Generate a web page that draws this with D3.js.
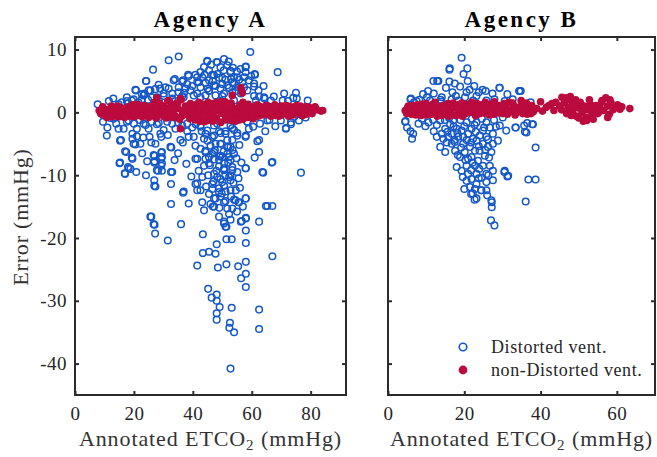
<!DOCTYPE html>
<html>
<head>
<meta charset="utf-8">
<title>ETCO2 error by agency</title>
<script src="https://cdn.jsdelivr.net/npm/d3@7/dist/d3.min.js"></script>
<style>
  body { margin: 0; background: #fff; }
  text { font-family: "Liberation Serif", "DejaVu Serif", serif; fill: #262626; }
</style>
</head>
<body>
<svg id="chart" width="657" height="457"></svg>
<script>
// tick values
const xTicksA = [0, 20, 40, 60, 80];
const xTicksB = [0, 20, 40, 60];
const yTicks = [-40, -30, -20, -10, 0, 10];

// Agency A, distorted ventilation [annotated ETCO2, error]
const distortedA = [
  [35.2,8.9],[31.8,8.3],[59.5,9.6],[44.9,8.1],[48.1,8.0],[50.6,8.5],[26.5,6.8],[68.8,6.4],[42.6,6.4],[58,7.3],
  [61,6.1],[24.2,5.0],[38.4,6.0],[36.7,5.1],[33.5,5.1],[28.4,4.4],[20.5,3.6],[75,3.1],[79,1.9],[7.7,1.3],
  [74.1,2.3],[64.2,2.4],[57.4,4.0],
  [10.8,-3.7],[14.8,-2.6],[15.6,-4.4],[17.4,-6.3],[15.3,-8.0],[16.9,-9.7],[18.2,-8.9],[19.3,-7.2],[19.9,-5.0],
  [21,-3.8],[22.2,-5.0],[24.1,-10],[26.9,-10.8],[26.9,-11.7],[25.3,-3.9],[25,-2.6],[29,-3.4],[29.5,-6.3],
  [29.5,-7.1],[29.5,-8.1],[29.5,-9.3],[26.7,-6.8],[26.9,-8.0],[27.8,-9.2],[32.4,-5.5],[32.6,-9.5],[32.6,-11.4],
  [36.7,-12.8],[35.8,-4.4],[34.1,-2.6],[25.6,-16.6],[26.7,-17.8],[36,-17.8],[32.6,-14.6],[38.6,-14.5],
  [41.5,-11.3],[42.6,-12.4],[43.2,-10.3],[41.5,-7.4],[42.6,-5.8],[44.3,-3.4],[45.5,-7.1],[45.8,-8.4],
  [43.2,-14.3],[43.8,-15.6],[47.2,-15.0],[48.9,-16.6],[50.6,-17.7],[52.8,-17.1],[54.5,-14],[55.7,-14.3],
  [58,-13.7],[58,-8.9],[58,-3.7],[59,-2.6],[62.5,-4.4],[62.5,-6.3],[63.9,-9.6],[67,-7.9],[65.3,-14.9],
  [67,-14.9],[62.5,-17.4],[58,-16.9],[56.3,-17.4],[76.7,-9.6],[71.6,-2.6],[73.3,-1.9],[48.9,-12.1],
  [48.3,-10.3],[50,-11.1],[52.8,-10.8],[50.6,-9.2],[52.8,-10],[47.2,-6.3],[50,-7.1],[51.7,-6.6],[52.8,-7.6],
  [53.4,-8.7],[51.7,-5.5],[53.4,-4.4],[49.4,-5.0],[47.2,-3.7],[55.1,-3.7],[54,-2.8],[48.9,-3],[40.3,-3.9],
  [38.1,-3],
  [43.2,5.6],[45.5,5.1],[48.3,6.1],[50,5.5],[52.8,6.4],[55.1,5.6],[54,4.6],[51.7,4.3],[49.4,3.8],[47.2,4.3],
  [45,3.8],[42.6,4.0],[41.5,4.8],[44.3,2.7],[47.7,2.7],[50.6,3.0],[53.4,3.2],[56.3,3.0],[58.5,3.5],[60.8,4.6],
  [59,5.1],[56.8,4.8],[49.4,7.2],[51.7,7.5],[54,5.6],[40.3,2.7],[37.5,3.8],[35.2,3.2],[31.8,3.8],[30.1,3.0],
  [26.1,2.4],[23.3,2.7],[19.3,1.9],[17.6,2.4],[15.9,1.6],[27.8,2.4],[33,2.2],[36.9,2.4],[42.6,2.4],[49.4,1.9],
  [54,1.9],[61.4,1.9],[66.5,1.9],[70.5,1.9],[45.5,6.7],[47.2,5.9],[53.4,4.8],[38.1,4.5],[28.9,3.8],[25,3.5],
  [22.7,2.9],
  [13.1,-1],[17.6,-1.5],[23.3,-1.8],[27.8,-1.9],[31.3,-1.5],[38.1,-1.8],[42.6,-2.1],[48.3,-1.8],[52.8,-2.1],
  [58.5,-1.5],[65.3,-1.3],[69.9,-1.3],[74.4,-0.7],[12,-0.9],[18,1.5],[22,-1.2],
  [47.7,-5],[51.1,-3.4],[52.8,-5.5],[54,-6.6],[50.6,-8.1],[47.2,-7.5],[48.9,-8.6],[55.1,-9.5],[51.1,-12.6],
  [52.8,-12.4],[49.4,-13.4],[47.2,-13.7],
  [72.3,1.8],[75.3,2.2],[73.3,-1.6],[71.6,-2.5],[61.9,-4.6],[66.8,-8.0],[57.9,-8.9],[63.6,-9.5],[57.9,-3.9],
  [58.5,-1.5],[60.8,4.1],[61.1,6.0],[57.9,7.2],[57.9,6.4],[55,6.5],[55.7,5.2],[52.8,6.6],[48.3,8.0],[51.1,5.2],
  [48.9,5.5],[46.6,6.0],[44.3,4.7],[47.7,4.2],[50,4.5],[52.3,3.9],[54.6,3.4],[45.5,3.4],[62.5,2.5],[64.3,2.2],
  [60.8,2.6],[50,2.6],[47.2,-2.1],[46.6,-3.9],[49.4,-3.3],[51.1,-3.0],[53.4,-2.5],[55.1,-3.3],[51.7,-4.4],
  [49.4,-5.0],[52,-5.5],[46.6,-6.6],[49.4,-6.9],[52.3,-7.1],[44.3,-6.3],[45.5,-8.1],[48.9,-7.6],[50.6,-8.9],
  [53.4,-9.2],[47.2,-9.8],[49.4,-10.6],[52.3,-10.3],[46.6,-11.4],[50.6,-11.7],[54.6,-12.4],[46.6,-12.2],
  [48.9,-12.7],[45.5,-13],[57.9,-13.7],[51.1,-14.1],[47.7,-13.7],
  [15.3,-4.5],[18.2,-1.3],[21,-2.6],[28.4,-1.7],[30.1,-2.8],[29.3,-3.9],[19.5,-3.4],[19.5,-4.2],[20.5,-5.1],
  [25.9,-4.8],[27.3,-5.0],[32.7,-5.6],[36.6,-4.8],[17,-6.2],[27,-6.9],[29.3,-6.4],[27,-7.8],[29.3,-7.4],
  [19.5,-7.4],[15.1,-8.1],[18,-8.7],[17,-9.8],[18.8,-9],[29.3,-8.5],[28.2,-9.3],[33,-9.5],[27.3,-11.8],
  [36.9,-12.6],[40.9,-11.4],[41.5,-12.4],[42,-9.3],[43.8,-8.5],[44.3,-7.4],[40.9,-7.4],[44.3,-6.1],
  [43.8,-4.2],[40.9,-5.3],[38.6,-3.9],[39.8,-2.4],[36.4,-2.1],[42.6,-2.3],[44.9,-2.9],[24.1,5.0],
  [20.7,3.5],[23.6,3.0],[25.6,3.5],[27.3,3.7],[30.7,4.0],[33.9,5.3],[36.4,4.9],[38.6,5.8],[40.9,6.0],
  [44.9,8.2],[42,4.8],[35.2,4.0],[33,3.0],[39.2,3.5],[41.5,3.0],[45.5,3.5],[17.6,1.8],[19.9,2.1],[22.7,2.1],
  [14.8,1.3],[30.1,2.6],[36.4,2.6],[34.1,1.8],
  [27.2,-19.3],[31.5,-20.4],[43.4,-19.4],[48.1,-21],[51.4,-20.2],[53.2,-20.2],[58,-20.8],[58,-18.8],
  [51.1,-18.2],[43.4,-22.4],[45.5,-22.2],[47.7,-22.5],[67,-22.9],[41.5,-24.4],[48.5,-24.7],[51.4,-24.2],
  [55.4,-24.5],[58,-23.8],[58,-25.7],[56.4,-26.4],[58,-27.8],[45.2,-28.1],[46.4,-29.5],[48.1,-29],[48.1,-30],
  [49.1,-31],[48.1,-32],[48.1,-33],[53.2,-31.1],[62.5,-31.4],[52.6,-33.5],[52.4,-34.3],[54,-35],[62.5,-34.5],
  [52.8,-40.8],
  [46.8,-15.0],[50.6,-14.3],[54,-13.9],[55.5,-14.3],[51.7,-15.3],[53.4,-15.3],[52.3,-16.2],[50.6,-17.4],
  [51.4,-18.2],[56.6,-17.3],[58,-16.8],[64.8,-14.9],[25.9,-16.6],[27,-17.9],
  [41,-1.9],[43,-3.0],[45,-4.5],[46,-5.3],[47.5,-6.0],[49,-7.0],[50.5,-6.2],[52,-8.0],[53.5,-6.0],[54.8,-7.3],
  [55.8,-5.2],[56.5,-8.0],[45.2,-10.0],[47,-11.0],[48,-9.3],[51,-10.0],[53.8,-11.2],[55.5,-10.5],[44.5,-11.8],
  [49.8,-12.9],[53,-13.4],[56,-12.0],[46,-14.6],[49,-15.2],[55,-15.8],[57,-15.0],
  [43.8,7.2],[46.2,7.6],[52.2,8.1],[53.6,7.1],[56.2,6.9],[59.8,5.8],[41.5,5.6],[44,6.0],[39.8,4.2],[37,3.1],
  [46.8,5.0],[50.5,6.7],[53,5.3],[55.5,4.0],[57.5,5.6],[62.3,3.5],[64,4.2],
  [11.5,1.8],[13,2.2],[21.5,1.6],[24.8,2.0],[28.5,1.9],[9.5,-1.5],[11,-2.4],[14,-1.8],[16.5,-2.6],[20,-1.8],
  [24,-2.0],[26,-1.5],[33,-1.8],[35,-1.6],[22.8,-6.5],[24.5,-7.8],[20.8,-9.5],[23.2,-4.0],[31.5,-3.6],
  [33.8,-7.6],[37.8,-8.2],[39.5,-10.2],[35,-6.5],
  [62.8,-1.8],[64.6,-3.0],[66,-1.2],[68,-2.2],[67.5,2.5],[71,3.0],[76,-1.3],[78.3,-0.8],[60.5,-2.3],[61,-7.2]
];

// Agency A, non-distorted ventilation
const nonDistortedA = [
  [8.2,0.3],[9.1,-0.3],[10,0.5],[11,-0.5],[12,0.2],[13,0.8],[14,-0.6],[15,0.1],[16,0.6],[17,-0.4],
  [18,0.9],[19,0],[20,-0.7],[21,0.5],[22,1.0],[23,-0.3],[24,0.4],[25,-0.8],[26,0.7],[27,1.6],
  [28,-0.5],[29,0.3],[30,1.0],[31,-0.9],[32,0.2],[33,1.3],[34,-0.6],[35,0.6],[36,2.0],[37,-0.2],
  [38,0.9],[39,-1.0],[40,0.4],[41,1.2],[42,-0.7],[43,0.1],[44,1.0],[45,-1.3],[46,0.6],[47,1.4],
  [48,-0.9],[49,0.2],[50,1.1],[51,-1.2],[52,0.5],[53,1.5],[54,-0.8],[55,0.3],[56,1.2],[57,-1.1],
  [58,0.6],[59,-0.4],[60,0.9],[61,0.1],[62,-0.6],[63,0.7],[64,0.2],[65,-0.3],[66,0.8],[67,0],
  [68,-0.5],[69,0.6],[70,1.0],[71,-0.2],[72,0.4],[73,0.9],[74,-0.4],[75,0.3],[76,0.7],[77,-0.5],
  [78,0.2],[79,0.6],[80,0.1],[81,0.5],
  [8.7,-0.2],[9.6,0.6],[10.5,-0.1],[11.5,0.4],[12.5,-0.7],[13.5,0.3],[14.5,1.0],[15.5,-0.3],[16.5,0.2],
  [17.5,0.5],[18.5,-0.6],[19.5,1.2],[20.5,0.2],[21.5,-0.5],[22.5,0.6],[23.5,1.1],[24.5,-0.2],[25.5,0.9],
  [26.5,0.1],[27.5,-0.9],[28.5,0.8],[29.5,-0.2],[30.5,0.5],[31.5,1.8],[32.5,-0.4],[33.5,0.3],[34.5,0.9],
  [35.5,-1.1],[36.5,0.2],[37.5,1.0],[38.5,-0.5],[39.5,0.6],[40.5,-0.2],[41.5,0.8],[42.5,-1.4],[43.5,1.3],
  [44.5,0.2],[45.5,-0.4],[46.5,1.1],[47.5,-0.9],[48.5,0.7],[49.5,-1.6],[50.5,0.4],[51.5,1.3],[52.5,-0.3],
  [53.5,0.8],[54.5,-1.4],[55.5,0.6],[56.5,-0.2],[57.5,1.0],[58.5,-0.8],[59.5,0.4],[60.5,-1.0],[61.5,0.5],
  [62.5,1.0],[63.5,-0.4],[64.5,0.6],[65.5,1.0],[66.5,-0.6],[67.5,0.4],[68.5,0.9],[69.5,-0.3],[70.5,0.3],
  [71.5,1.1],[72.5,-0.6],[73.5,0.5],[74.5,0.9],[75.5,-0.1],[76.5,1.0],[77.5,0.4],[78.5,-0.3],[79.5,0.8],
  [35.8,-2.6],[56.3,3.9],[56.8,3.1],[53.4,2.7],[35.8,2.2],[27.8,2.3],[31.8,1.9],[83.5,0.2],[84.1,0.3],
  [82.2,0.4],[77.3,-0.5],[79.5,0.6],[9,0],[45,-0.6],[50,-0.2],[55,-0.7],[42,0.5],[47,0.1],[52,-0.5],
  [58,0.2],[44,-1.5],[48,1.6],[51,1.7],[53,-1.3],[46,-1.0],[60,-0.2],[62,0.4],[64,0.8],[66,0.3],[70,-0.4],
  [20,0.6],[15,-0.7],[25,0.2],[30,-0.5],[33,0.7],[38,-0.3],[40,-0.9],[42,1.6],[49,1.0],[57,1.6],
  [9.4,0.9],[10.8,-0.8],[12.3,1.0],[13.8,-0.2],[15.2,0.8],[16.8,-0.8],[18.2,0.4],[19.8,-0.3],[21.2,1.3],
  [22.8,-0.7],[24.2,0.9],[25.8,-0.4],[27.2,0.5],[28.8,1.4],[30.2,-0.7],[31.8,0.7],[33.2,-0.8],[34.8,1.5],
  [36.2,-0.6],[37.8,0.3],[39.2,1.4],[40.8,-1.2],[42.2,0.9],[43.8,-0.6],[45.2,1.6],[46.8,-1.4],[48.2,0.3],
  [49.8,1.7],[51.2,-0.5],[52.8,1.0],[54.2,0.1],[55.8,-1.2],[57.2,0.5],[58.8,1.3],[60.2,-0.5],[61.8,1.2],
  [63.2,0.0],[64.8,1.1],[66.2,-0.2],[67.8,1.2],[69.2,-0.6],[70.8,0.6],[72.2,1.0],[73.8,-0.1],[75.2,1.1],
  [76.8,0.2],[78.2,0.9],[80.5,-0.2],[81.5,0.9]
];

// Agency B, distorted ventilation
const distortedB = [
  [19.3,8.7],[16.1,6.8],[20.8,7.0],[11.9,5.0],[13.2,5.0],[16.1,4.9],[20.9,5.0],[15.2,3.9],[16.9,3.2],
  [18.9,4.1],[20.6,3.2],[24.8,3.6],[25.6,3.4],[27.4,3.0],[29.3,3.9],[23.2,2.6],[9.2,2.9],[12,3.0],[5.9,2.1],
  [6.8,1.6],[10.2,2.4],[14.1,2.4],[16.7,2.1],[20.2,2.4],[22.3,1.9],[25.8,1.9],[30.6,1.8],[32.7,2.1],[34.4,3.4],
  [4.6,-1.4],[5,-2.4],[5.9,-3],[6.3,-4.2],[6.6,-3.4],[8.9,-1.0],[10.6,-1.6],[12.8,-2.0],[12,-3.0],[12.8,-3.9],
  [13.7,-5.5],[15,-6.3],[14.1,-3.4],[15,-2.6],[16.3,-1.9],[15.8,-3.9],[16.7,-5.0],[17.6,-6.1],[18.4,-3.9],
  [19.3,-2.9],[19.7,-5.0],[18,-8.7],[19.3,-9.3],[20.6,-8.5],[21,-9.8],[21.9,-7.1],[22.8,-6.1],[21.5,-5.5],
  [23.2,-4.5],[24.1,-3.7],[24.9,-2.9],[25.8,-3.9],[26.7,-2.4],[27.5,-3.4],[24.9,-5.0],[26.2,-5.5],[27.5,-5.0],
  [27.1,-6.3],[25.4,-6.9],[23.6,-7.7],[24.9,-8.5],[26.7,-8.5],[27.5,-9.3],[25.8,-9.8],[23.2,-9.8],
  [21.9,-10.6],[20.6,-10.9],[23.2,-11.4],[21.5,-11.9],[25.8,-11.1],[24.5,-12.4],[25.8,-12.4],[27.5,-10.8],
  [30.6,-9.3],[31.5,-10.1],[22.2,-12.9],[23.2,-13.7],[27.1,-14.0],[33.4,-2.4],[29.3,-2.1],[30.1,-0.8],
  [13.7,-1.3],[17.1,-1.3],[20.6,-1.6],[23.2,-1.6],[25.8,-1.6],[15.4,-4.8],[18,-2.6],[21,-3.4],[21.9,-2.6],
  [22.3,-4.2],[20.1,-6.3],[18.9,-7.1],[21,-7.4],[22.8,-8.5],[24,-6.1],[16.7,-3.4],[19.7,-3.9],
  [38.7,-5.6],[36.8,-10.7],[38.7,-10.7],[36.1,-14.2],[30.5,-9.5],[31.3,-10.2],[27.2,-14.3],[27.2,-15.1],
  [27,-17.2],[27.9,-18.0],[24.4,-12.4],[22.7,-13.9],[21.8,-13.0],[33.5,-2.4],[35.7,-2.1],[37.8,-1.9],
  [36.3,-3.2],[16.2,7.0],[12.9,5.0],[29.2,3.9],[34.5,3.4],[37.4,1.6],[6,2.2],[4.5,-1.5],[34.8,3.4],
  [36.5,-1.7],[38,-1.9],[35.9,-3.1],[7.5,1.8],[11,1.9],[14,1.7],[18.5,1.9],[8,-1.8],[9.8,-2.2],[26.5,-7.2],
  [23.8,-10.5],[20,-12.2],[26,-13.2],[17.5,-4.7],[14.5,-4.2],
  [14.9,-1.2],[16,-0.9],[11.8,-1.2],[19,-1.2],[22,-1.0],[24.6,-1.0],[27.8,-1.2],[17.2,-2.2],[20,-2.2],
  [22.7,-2.0],[25.2,-2.4],[28.3,-2.3],[31,-2.9],[15.6,-3.1],[18.2,-3.3],[20.6,-4.4],[23,-3.1],[26.2,-4.3],
  [28.8,-4.5],[17.4,-4.4],[19.2,-5.6],[21.8,-4.8],[23.8,-5.4],[25.5,-6.0],[18.3,-6.8],[20.3,-7.6],[22.2,-8.0],
  [23.9,-9.0],[19.6,-10.3],[21.8,-9.2],[24.5,-10.4],[26.3,-10.0],[22.8,-12.2],[13.8,2.0],[17.8,2.6],
  [21.4,3.6],[23.8,3.2],[27.9,2.1],[31.3,2.9],[10.5,3.4],[8.2,2.0],[19.8,6.1],[17.5,4.6],[22.6,4.2]
];

// Agency B, non-distorted ventilation
const nonDistortedB = [
  [4.5,0.3],[5.3,1.0],[6.1,-0.3],[6.9,0.6],[7.7,1.2],[8.5,0.0],[9.3,0.8],[10.1,-0.4],[10.9,0.5],[11.7,1.3],
  [12.5,0.1],[13.3,0.9],[14.1,-0.5],[14.9,0.4],[15.7,1.4],[16.5,-0.2],[17.3,0.7],[18.1,1.2],[18.9,-0.4],
  [19.7,0.5],[20.5,1.3],[21.3,0.0],[22.1,0.8],[22.9,-0.5],[23.7,0.4],[24.5,1.2],[25.3,-0.1],[26.1,0.7],
  [26.9,1.3],[27.7,-0.3],[28.5,0.5],[29.3,1.1],[30.1,-0.2],[30.9,0.6],[31.7,1.6],[32.5,0.2],[33.3,-0.4],
  [34.1,0.8],[34.9,1.9],[35.7,0.3],[36.5,-0.3],[37.3,0.9],[38.1,0.1],
  [4.9,-0.2],[5.7,0.5],[6.5,1.1],[7.3,-0.4],[8.1,0.4],[8.9,1.3],[9.7,0.2],[10.5,1.0],[11.3,-0.3],[12.1,0.6],
  [12.9,-0.6],[13.7,0.3],[14.5,1.1],[15.3,-0.1],[16.1,0.6],[16.9,1.0],[17.7,-0.5],[18.5,0.3],[19.3,1.5],
  [20.1,-0.3],[20.9,0.5],[21.7,1.0],[22.5,0.2],[23.3,1.4],[24.1,-0.2],[24.9,0.5],[25.7,1.0],[26.5,-0.4],
  [27.3,0.3],[28.1,1.2],[28.9,-0.1],[29.7,0.8],[30.5,1.4],[31.3,-0.3],[32.1,0.4],[32.9,1.1],[33.7,0.0],
  [34.5,0.6],[35.3,-0.2],[36.1,0.9],[36.9,0.3],[37.7,1.1],
  [39.0,0.6],[40.0,1.7],[40.5,0.2],[41.5,0.8],[42.2,1.1],[43,1.4],[44,1.6],[43.5,0.3],[45.6,2.4],[47.8,2.5],
  [46.5,2.0],[45.0,1.0],
  [45.5,0.4],[46.2,1.5],[46.8,-0.2],[47.3,0.8],[47.9,1.9],[48.4,0.2],[48.9,1.2],[49.4,-0.6],[49.9,0.7],
  [50.4,1.6],[50.9,0.0],[51.4,1.0],[51.9,-0.8],[52.1,-1.3],[52.5,0.4],[53.0,1.3],[53.5,-0.4],[54.0,0.6],
  [54.5,1.1],[55.0,-0.2],[55.5,0.8],[56.0,1.6],[56.5,0.3],[57.1,2.3],[57.5,1.0],[58.0,-0.3],[58.5,1.5],
  [59.0,0.4],[59.7,0.8],[60.2,1.2],[60.8,0.5],[61.3,0.9],[63.4,0.6],[50.0,-0.9],[48.0,-0.5],[53.8,-1.1],
  [56.1,1.9],[55.2,0.0],[49.2,2.0],[46.8,2.3],[52.8,2.0],[58.2,2.0],[57.6,-0.8],[51.2,-1.4],
  [5.1,0.7],[6.3,0.0],[7.5,0.8],[8.7,-0.5],[9.9,1.4],[11.1,0.2],[12.3,1.6],[13.5,-0.3],[14.7,0.7],
  [15.9,-0.6],[17.1,1.5],[18.3,0.6],[19.5,-0.6],[20.7,0.9],[21.9,1.6],[23.1,0.1],[24.3,0.8],[25.5,1.6],
  [26.7,0.3],[27.9,1.7],[29.1,0.3],[30.3,1.0],[31.5,0.2],[32.7,1.5],[33.9,0.5],[35.1,1.2],[36.3,1.5],
  [37.5,-0.2]
];

const legendLabels = ["Distorted vent.", "non-Distorted vent."];

const blue = "#1558c8";
const red = "#bb0a3d";
const frameColor = "#2b2b2b";

const svg = d3.select("#chart");
const plotTop = 37, plotBottom = 395;

const y = d3.scaleLinear().domain([-45, 12]).range([plotBottom, plotTop]);

const panels = [
  { title: "Agency A", x: d3.scaleLinear().domain([0, 92]).range([75, 346]),
    ticks: xTicksA, open: distortedA, filled: nonDistortedA, yLabels: true },
  { title: "Agency B", x: d3.scaleLinear().domain([0, 70]).range([388, 655]),
    ticks: xTicksB, open: distortedB, filled: nonDistortedB, yLabels: false }
];

const fmt = d => String(d);   // plain hyphen minus, like the original

panels.forEach(function(p) {
  const [x0, x1] = p.x.range();
  const g = svg.append("g");

  // points: open circles first, filled on top
  g.append("g").selectAll("circle")
    .data(p.open)
    .enter().append("circle")
      .attr("cx", d => p.x(d[0]))
      .attr("cy", d => y(d[1]))
      .attr("r", 3.3)
      .attr("fill", "none")
      .attr("stroke", blue)
      .attr("stroke-width", 1.5);

  g.append("g").selectAll("circle")
    .data(p.filled)
    .enter().append("circle")
      .attr("cx", d => p.x(d[0]))
      .attr("cy", d => y(d[1]))
      .attr("r", 3.8)
      .attr("fill", red);

  // axes with inward ticks on all sides
  const bottomAxis = d3.axisBottom(p.x).tickValues(p.ticks).tickSizeInner(-4).tickSizeOuter(0).tickPadding(12).tickFormat(fmt);
  const topAxis = d3.axisTop(p.x).tickValues(p.ticks).tickSizeInner(-4).tickSizeOuter(0).tickFormat("");
  const leftAxis = d3.axisLeft(y).tickValues(yTicks).tickSizeInner(-4).tickSizeOuter(0).tickPadding(8).tickFormat(p.yLabels ? fmt : "");
  const rightAxis = d3.axisRight(y).tickValues(yTicks).tickSizeInner(-4).tickSizeOuter(0).tickFormat("");

  const axes = [
    [bottomAxis, `translate(0,${plotBottom})`],
    [topAxis, `translate(0,${plotTop})`],
    [leftAxis, `translate(${x0},0)`],
    [rightAxis, `translate(${x1},0)`]
  ];
  axes.forEach(function(a) {
    const ag = g.append("g").attr("transform", a[1]).call(a[0]);
    ag.select(".domain").remove();
    ag.selectAll(".tick line").attr("stroke", frameColor).attr("stroke-width", 2);
    ag.selectAll(".tick text")
      .attr("font-family", "Liberation Serif, serif")
      .attr("font-size", 19)
      .attr("letter-spacing", 0.5)
      .attr("fill", "#333");
  });

  g.append("rect")
    .attr("x", x0).attr("y", plotTop)
    .attr("width", x1 - x0).attr("height", plotBottom - plotTop)
    .attr("fill", "none")
    .attr("stroke", frameColor)
    .attr("stroke-width", 2);

  // title
  svg.append("text")
    .attr("x", (x0 + x1) / 2)
    .attr("y", 27)
    .attr("text-anchor", "middle")
    .attr("font-size", 23)
    .attr("font-weight", "bold")
    .attr("letter-spacing", 2.5)
    .style("fill", "#000")
    .text(p.title);

  // x label with subscript
  const xl = svg.append("text")
    .attr("x", (x0 + x1) / 2)
    .attr("y", 446)
    .attr("text-anchor", "middle")
    .attr("font-size", 22)
    .attr("letter-spacing", 0.9)
    .style("fill", "#333");
  xl.append("tspan").text("Annotated ETCO");
  xl.append("tspan").attr("font-size", 15).attr("dy", 4).text("2");
  xl.append("tspan").attr("dy", -4).text(" (mmHg)");
});

// y label
svg.append("text")
  .attr("transform", "translate(28,217) rotate(-90)")
  .attr("text-anchor", "middle")
  .attr("font-size", 22)
  .attr("letter-spacing", 0.8)
  .style("fill", "#333")
  .text("Error (mmHg)");

// legend inside panel B
const legend = svg.append("g");
const legendY = [347, 370];
legend.append("circle")
  .attr("cx", 463).attr("cy", legendY[0]).attr("r", 3.8)
  .attr("fill", "none").attr("stroke", blue).attr("stroke-width", 1.6);
legend.append("circle")
  .attr("cx", 463).attr("cy", legendY[1]).attr("r", 4.4)
  .attr("fill", red);
legend.selectAll("text.lab")
  .data(legendLabels)
  .enter().append("text")
    .attr("class", "lab")
    .attr("x", 491)
    .attr("y", (d, i) => legendY[i])
    .attr("dy", "0.33em")
    .attr("font-size", 18)
    .attr("letter-spacing", 0.6)
    .style("fill", "#262626")
    .text(d => d);
</script>
</body>
</html>
